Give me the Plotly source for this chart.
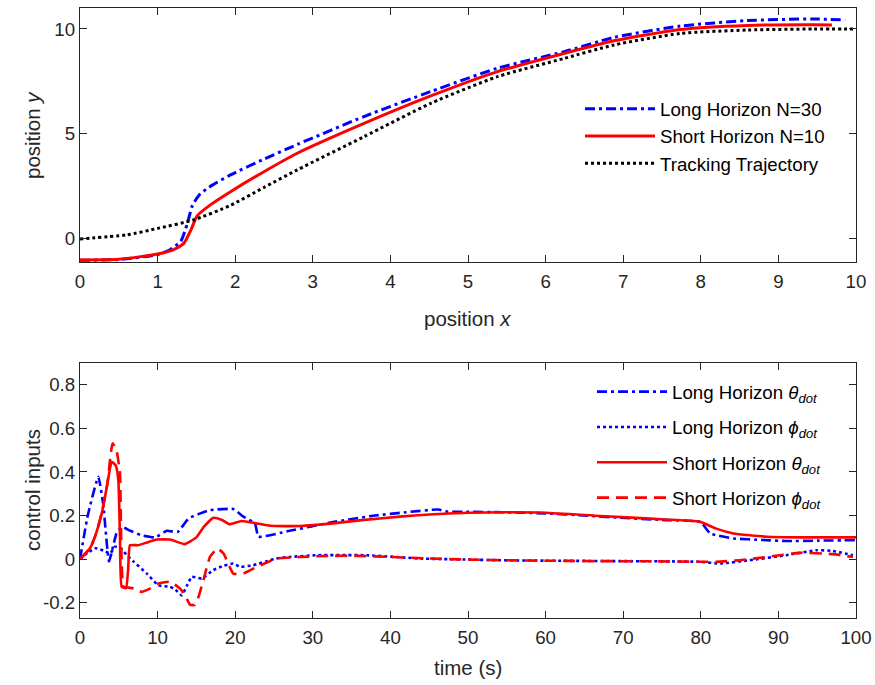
import plotly.graph_objects as go

# ---------------- Top panel data (position y vs position x) ----------------
long_x = [0, 0.5, 1.0, 1.16, 1.3, 1.38, 1.45, 1.55, 1.7, 1.94, 2.37, 2.8, 3.66, 4.52, 5.38, 6.24, 6.88, 7.74, 8.6, 9.45, 9.86]
long_y = [-1.02, -0.98, -0.75, -0.52, -0.1, 0.7, 1.6, 2.15, 2.55, 3.05, 3.8, 4.5, 5.83, 7.02, 8.13, 8.92, 9.6, 10.14, 10.4, 10.48, 10.43]

short_x = [0, 0.5, 1.0, 1.2, 1.34, 1.43, 1.51, 1.68, 1.94, 2.37, 2.8, 3.66, 4.52, 5.38, 6.24, 6.88, 7.74, 8.6, 9.45, 9.69]
short_y = [-1.0, -0.97, -0.72, -0.52, -0.2, 0.43, 1.1, 1.62, 2.25, 3.2, 4.08, 5.5, 6.81, 7.97, 8.84, 9.44, 9.98, 10.17, 10.2, 10.19]

track_x = [0, 0.6, 1.0, 1.46, 1.94, 2.37, 2.8, 3.66, 4.52, 5.38, 6.24, 6.88, 7.74, 8.6, 9.45, 10.0]
track_y = [0, 0.19, 0.5, 0.9, 1.6, 2.45, 3.29, 4.87, 6.46, 7.73, 8.6, 9.24, 9.79, 9.95, 10.0, 10.0]

# ---------------- Bottom panel data (control inputs vs time) ----------------
lt_t = [0, 1, 2.36, 3.0, 3.74, 4.7, 5.37, 6.5, 7.9, 9.7, 11.2, 12.6, 14.0, 15.5, 16.75, 19.75, 21.05, 22.55, 23.0,
        27, 32.6, 38, 42, 46.2, 47.3, 50, 54.5, 60, 65, 69.6, 75, 80, 81.2, 84.2, 88, 91, 95, 100]
lt_v = [0, 0.2, 0.378, 0.25, -0.01, 0.118, 0.148, 0.13, 0.11, 0.10, 0.13, 0.125, 0.187, 0.21, 0.225, 0.23, 0.195, 0.164, 0.103,
        0.13, 0.17, 0.2, 0.215, 0.228, 0.218, 0.217, 0.215, 0.21, 0.2, 0.19, 0.18, 0.17, 0.118, 0.095, 0.088, 0.083, 0.085, 0.087]

lp_t = [0, 1, 2, 3, 3.9, 4.5, 5.2, 6.0, 6.87, 8.6, 10.1, 11.6, 12.3, 13.1, 13.8, 14.4, 15.7, 17.2, 18.5, 19.75, 20.6, 22.3,
        24.5, 25.3, 27, 30.5, 36.9, 43.8, 50, 54, 60, 69.6, 75, 79.9, 82.5, 86.3, 91, 94.9, 97, 99.6]
lp_v = [0, 0.03, 0.05, 0.04, 0.026, 0.057, 0.05, 0.02, -0.01, -0.066, -0.12, -0.127, -0.14, -0.166, -0.12, -0.081, -0.089,
        -0.05, -0.03, -0.02, -0.035, -0.028, -0.005, 0.003, 0.01, 0.018, 0.018, 0.003, -0.002, -0.005, -0.007, -0.009, -0.01,
        -0.012, -0.02, -0.005, 0.018, 0.041, 0.038, 0.018]

st_t = [0, 1.29, 2.0, 2.8, 3.5, 4.08, 4.6, 4.94, 5.15, 5.37, 5.93, 6.2, 6.44, 7.5, 8.5, 9.9, 11.6, 13.5, 15.0, 16.0, 17.2,
        18.3, 19.3, 20.8, 22.8, 24.5, 28.4, 32.6, 36, 41.2, 45, 50, 54.1, 60, 67, 74, 79.9, 82, 84.2, 88.5, 93, 100]
st_v = [0, 0.05, 0.11, 0.21, 0.34, 0.447, 0.43, 0.363, 0.1, -0.127, -0.133, -0.05, 0.064, 0.064, 0.075, 0.09, 0.09, 0.069,
        0.10, 0.15, 0.19, 0.18, 0.16, 0.175, 0.164, 0.153, 0.152, 0.164, 0.178, 0.195, 0.205, 0.213, 0.215, 0.213, 0.198,
        0.185, 0.172, 0.14, 0.118, 0.103, 0.1, 0.1]

sp_t = [0, 1.29, 2.0, 2.8, 3.5, 3.85, 4.2, 4.7, 5.15, 5.6, 6.2, 7.1, 7.9, 9, 10.1, 11.6, 12.9, 13.6, 14.2, 14.8, 15.3, 15.9,
        16.75, 17.7, 18.5, 19.75, 21.05, 22.8, 24.5, 25.3, 28.4, 32, 36, 40, 45, 50, 55, 60, 67, 74, 79.9, 82, 85, 88.5,
        92.8, 97, 99.6]
sp_v = [0, 0.05, 0.11, 0.21, 0.34, 0.45, 0.532, 0.5, 0.394, -0.127, -0.13, -0.135, -0.15, -0.135, -0.112, -0.104, -0.135,
        -0.17, -0.21, -0.21, -0.17, -0.097, 0.01, 0.049, 0.026, -0.066, -0.066, -0.035, -0.009, 0.003, 0.01, 0.015, 0.015,
        0.01, 0.003, -0.002, -0.005, -0.007, -0.009, -0.01, -0.012, -0.012, -0.005, 0.01, 0.029, 0.023, 0.01]

# tick labels
top_xticks = list(range(0, 11))
top_yticks = [0, 5, 10]
bot_xticks = list(range(0, 101, 10))
bot_yticks = [-0.2, 0, 0.2, 0.4, 0.6, 0.8]
bot_yticktext = ["-0.2", "0", "0.2", "0.4", "0.6", "0.8"]

W, H = 875, 685


def px(X):
    return X / W


def py(Y):
    return 1 - Y / H


FONT = "Liberation Sans, Arial, sans-serif"
AX = "#262626"
BLUE, RED, BLACK = "#0000FF", "#FF0000", "#000000"
DASHDOT = "10px,4px,3px,4px"
DOT = "3px,3px"
DASH = "12px,7px"

fig = go.Figure()
sm = 0.6
fig.add_trace(go.Scatter(x=long_x, y=long_y, mode="lines", name="Long Horizon N=30",
                         line=dict(color=BLUE, width=3, dash=DASHDOT, shape="spline", smoothing=sm),
                         xaxis="x", yaxis="y", legend="legend"))
fig.add_trace(go.Scatter(x=short_x, y=short_y, mode="lines", name="Short Horizon N=10",
                         line=dict(color=RED, width=3, shape="spline", smoothing=sm),
                         xaxis="x", yaxis="y", legend="legend"))
fig.add_trace(go.Scatter(x=track_x, y=track_y, mode="lines", name="Tracking Trajectory",
                         line=dict(color=BLACK, width=3, dash=DOT, shape="spline", smoothing=sm),
                         xaxis="x", yaxis="y", legend="legend"))

sub = "<i>dot</i>"
bw = 2.6
fig.add_trace(go.Scatter(x=lt_t, y=lt_v, mode="lines", name="Long Horizon <i>θ</i><sub>" + sub + "</sub>",
                         line=dict(color=BLUE, width=bw, dash=DASHDOT, shape="spline", smoothing=0.4),
                         xaxis="x2", yaxis="y2", legend="legend2", legendgroup="a"))
fig.add_trace(go.Scatter(x=lp_t, y=lp_v, mode="lines", name="Long Horizon <i>ϕ</i><sub>" + sub + "</sub>",
                         line=dict(color=BLUE, width=bw, dash=DOT, shape="spline", smoothing=0.4),
                         xaxis="x2", yaxis="y2", legend="legend2", legendgroup="b"))
fig.add_trace(go.Scatter(x=st_t, y=st_v, mode="lines", name="Short Horizon <i>θ</i><sub>" + sub + "</sub>",
                         line=dict(color=RED, width=bw, shape="spline", smoothing=0.4),
                         xaxis="x2", yaxis="y2", legend="legend2", legendgroup="c"))
fig.add_trace(go.Scatter(x=sp_t, y=sp_v, mode="lines", name="Short Horizon <i>ϕ</i><sub>" + sub + "</sub>",
                         line=dict(color=RED, width=bw, dash=DASH, shape="spline", smoothing=0.4),
                         xaxis="x2", yaxis="y2", legend="legend2", legendgroup="d"))

xdom = [px(80), px(856)]
top_dom = [py(262), py(8)]
bot_dom = [py(618), py(363)]


def axis(**kw):
    base = dict(showline=True, linecolor=AX, linewidth=1.3, mirror="ticks", ticks="inside",
                ticklen=7, tickwidth=1.3, tickcolor=AX, showgrid=False, zeroline=False,
                automargin=False, tickfont=dict(family=FONT, size=18.7, color=AX))
    base.update(kw)
    return base


fig.update_layout(
    width=W, height=H, margin=dict(l=0, r=0, t=0, b=0, autoexpand=False),
    paper_bgcolor="white", plot_bgcolor="white",
    font=dict(family=FONT, color=AX),
    xaxis=axis(domain=xdom, range=[0, 10], anchor="y", tickvals=top_xticks, ticklabelstandoff=2),
    yaxis=axis(domain=top_dom, range=[-1.1, 11], anchor="x", tickvals=top_yticks),
    xaxis2=axis(domain=xdom, range=[0, 100], anchor="y2", tickvals=bot_xticks, ticklabelstandoff=2),
    yaxis2=axis(domain=bot_dom, range=[-0.27, 0.9], anchor="x2", tickvals=bot_yticks, ticktext=bot_yticktext),
    legend=dict(x=px(580), y=py(90), xanchor="left", yanchor="top", bgcolor="rgba(0,0,0,0)",
                font=dict(family=FONT, size=18.7, color="#000000"), itemwidth=70, tracegroupgap=0),
    legend2=dict(x=px(592), y=py(373), xanchor="left", yanchor="top", bgcolor="rgba(0,0,0,0)",
                 font=dict(family=FONT, size=18.7, color="#000000"), itemwidth=70, tracegroupgap=8),
    showlegend=True,
)

ann = dict(xref="paper", yref="paper", showarrow=False, font=dict(family=FONT, size=20.5, color=AX))
fig.add_annotation(text="position <i>x</i>", x=px(468), y=py(318), xanchor="center", yanchor="middle", **ann)
fig.add_annotation(text="position <i>y</i>", x=px(32), y=py(135), xanchor="center", yanchor="middle", textangle=-90, **ann)
fig.add_annotation(text="time (s)", x=px(468), y=py(667), xanchor="center", yanchor="middle", **ann)
fig.add_annotation(text="control inputs", x=px(32), y=py(490), xanchor="center", yanchor="middle", textangle=-90, **ann)

# remove the default page margin so the figure sits at the top-left corner of the window
fig.write_html("out.html", config={"displayModeBar": False},
               post_script="document.body.style.margin='0';")
